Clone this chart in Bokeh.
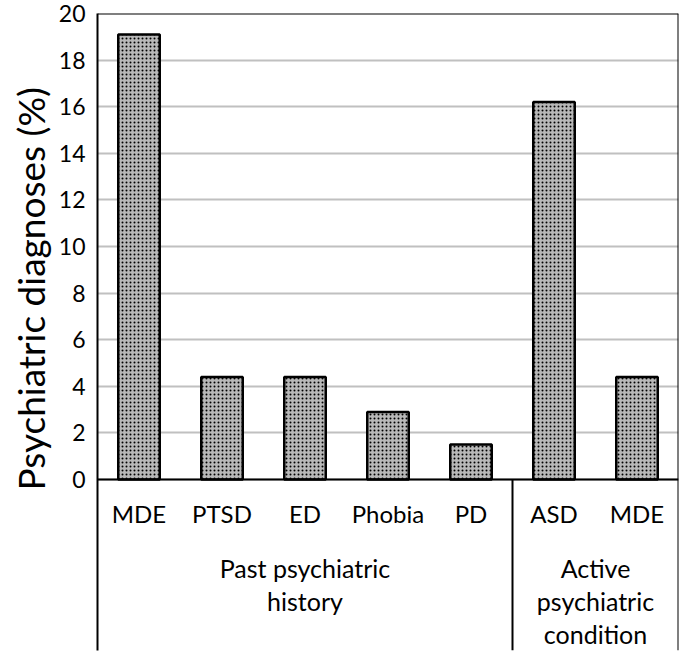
from bokeh.plotting import figure
from bokeh.models import ColumnDataSource, Range1d, FixedTicker, Span, Title
from bokeh.core.properties import value
from bokeh.embed import file_html
from bokeh.resources import INLINE

# ---- data ----
categories = ["MDE", "PTSD", "ED", "Phobia", "PD", "ASD", "MDE"]
percent = [19.1, 4.4, 4.4, 2.9, 1.5, 16.2, 4.4]
groups = ["Past psychiatric\nhistory", "Active\npsychiatric\ncondition"]
group_sizes = [5, 2]
y_ticks = [0, 2, 4, 6, 8, 10, 12, 14, 16, 18, 20]
y_title = "Psychiatric diagnoses (%)"

FONT = "Lato"
PX_PER_UNIT = 23.3
FRAME_H = 637
Y_MAX = 20
Y_MIN = Y_MAX - FRAME_H / PX_PER_UNIT

def below(px):
    """data y for a point `px` pixels below the zero line"""
    return -px / PX_PER_UNIT

n = len(categories)
p = figure(frame_width=581, frame_height=FRAME_H,
           x_range=Range1d(0, n), y_range=Range1d(Y_MIN, Y_MAX),
           output_backend="svg", toolbar_location=None,
           x_axis_type=None,
           min_border_left=97, min_border_right=4,
           min_border_top=13, min_border_bottom=2)
p.outline_line_color = None
p.background_fill_color = "white"
p.border_fill_color = "white"

# y axis
ya = p.yaxis[0]
ya.ticker = FixedTicker(ticks=y_ticks)
ya.major_tick_out = 0
ya.major_tick_in = 0
ya.minor_tick_out = 0
ya.minor_tick_in = 0
ya.major_label_standoff = 12
ya.major_label_text_font = FONT
ya.major_label_text_font_size = "23px"
ya.major_label_text_color = "black"
ya.axis_line_color = "black"
ya.axis_line_width = 2

# y axis title as a side title (allows an offset along the axis)
p.add_layout(Title(text=y_title, align="left", offset=160, standoff=2,
                   vertical_align="top", text_line_height=0.75,
                   text_font=FONT, text_font_size="37px",
                   text_font_style="normal", text_color="black"), "left")

p.xgrid.visible = False
p.ygrid.ticker = FixedTicker(ticks=y_ticks)
p.ygrid.grid_line_color = "#c0c0c0"
p.ygrid.grid_line_width = 2

# bars
xs = [i + 0.5 for i in range(n)]
src = ColumnDataSource(dict(x=xs, top=percent, cat=categories))
p.vbar(x="x", top="top", bottom=0, width=0.5, source=src,
       fill_color="#b8b8b8", line_color="black", line_width=2.5,
       hatch_pattern="dot", hatch_color="#000000", hatch_scale=4, hatch_weight=3)

# frame lines
p.add_layout(Span(location=Y_MAX, dimension="width", line_color="black", line_width=2))
p.add_layout(Span(location=0, dimension="width", line_color="black", line_width=2))
p.add_layout(Span(location=n, dimension="height", line_color="black", line_width=2))

# group separators below the zero line
edges = [0]
for s in group_sizes:
    edges.append(edges[-1] + s)
inner = edges[1:-1]
p.segment(x0=inner, y0=[0] * len(inner), x1=inner, y1=[Y_MIN] * len(inner),
          line_color="black", line_width=2)

# category labels
p.text(x="x", y=below(34), text="cat", source=src,
       text_font=value(FONT), text_font_size="24px", text_color="black",
       text_align="center", text_baseline="alphabetic")

# group labels
gx, gy, gt = [], [], []
for gi, g in enumerate(groups):
    cx = (edges[gi] + edges[gi + 1]) / 2
    for k, line in enumerate(g.split("\n")):
        gx.append(cx)
        gy.append(below(88 + 33 * k))
        gt.append(line)
p.text(x=gx, y=gy, text=gt,
       text_font=value(FONT), text_font_size="25px", text_color="black",
       text_align="center", text_baseline="alphabetic")

open("out.html", "w").write(file_html(p, INLINE))
